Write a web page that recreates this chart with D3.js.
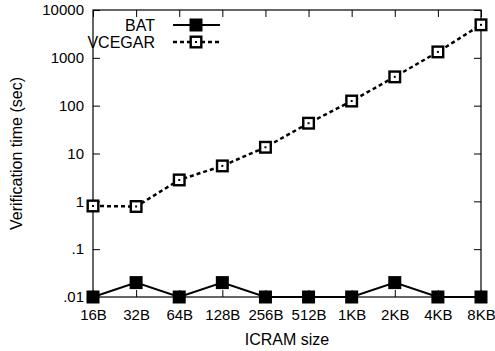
<!DOCTYPE html>
<html>
<head>
<meta charset="utf-8">
<script src="https://cdn.jsdelivr.net/npm/d3@7"></script>
<style>
  body { margin: 0; background: #fff; }
  text { font-family: "Liberation Sans", Arial, sans-serif; font-size: 16px; fill: #000; }
</style>
</head>
<body>
<script>
// ICRAM size vs verification time, log y
let sizes = ['16B', '32B', '64B', '128B', '256B', '512B', '1KB', '2KB', '4KB', '8KB']
let batTimes = [0.01, 0.02, 0.01, 0.02, 0.01, 0.01, 0.01, 0.02, 0.01, 0.01]
let vcegarTimes = [0.8, 0.78, 2.8, 5.5, 13.5, 43, 125, 400, 1330, 4900]
let yTicks = [0.01, 0.1, 1, 10, 100, 1000, 10000]
let yTickLabels = ['.01', '.1', '1', '10', '100', '1000', '10000']

let width = 495, height = 351
let margin = { top: 10, right: 14, bottom: 54, left: 93 }

let svg = d3.select('body').append('svg')
  .attr('width', width)
  .attr('height', height)

let xScale = d3.scalePoint()
  .domain(sizes)
  .range([margin.left, width - margin.right])

let yScale = d3.scaleLog()
  .domain([0.01, 10000])
  .range([height - margin.bottom, margin.top])

// 坐标轴 (gnuplot 风格，刻度朝内)
let tick = 7
let xAxis = svg.append('g')
  .attr('transform', 'translate(0,' + (height - margin.bottom) + ')')
  .call(d3.axisBottom(xScale).tickSize(-tick).tickPadding(12))
xAxis.select('.domain').remove()
xAxis.selectAll('text').style('font-size', '15px').attr('fill', '#000')

let xTop = svg.append('g')
  .attr('transform', 'translate(0,' + margin.top + ')')
  .call(d3.axisTop(xScale).tickSize(-tick).tickFormat(''))
xTop.select('.domain').remove()

let yAxis = svg.append('g')
  .attr('transform', 'translate(' + margin.left + ',0)')
  .call(d3.axisLeft(yScale).tickValues(yTicks).tickSize(-tick).tickPadding(9)
    .tickFormat(function (d, i) { return yTickLabels[i] }))
yAxis.select('.domain').remove()
yAxis.selectAll('text').style('font-size', '15px').attr('fill', '#000')

let yRight = svg.append('g')
  .attr('transform', 'translate(' + (width - margin.right) + ',0)')
  .call(d3.axisRight(yScale).tickValues(yTicks).tickSize(-tick).tickFormat(''))
yRight.select('.domain').remove()

svg.selectAll('.tick line').attr('stroke', '#000').attr('stroke-width', 1)

svg.append('rect')
  .attr('x', margin.left)
  .attr('y', margin.top)
  .attr('width', width - margin.left - margin.right)
  .attr('height', height - margin.top - margin.bottom)
  .attr('fill', 'none')
  .attr('stroke', '#000')
  .attr('stroke-width', 1.2)

// 轴标题
svg.append('text')
  .attr('x', (margin.left + width - margin.right) / 2)
  .attr('y', 345)
  .attr('text-anchor', 'middle')
  .text('ICRAM size')

svg.append('text')
  .attr('transform', 'translate(22,' + ((margin.top + height - margin.bottom) / 2) + ') rotate(-90)')
  .attr('text-anchor', 'middle')
  .text('Verification time (sec)')

let line = d3.line()
  .x(function (d, i) { return xScale(sizes[i]) })
  .y(function (d) { return yScale(d) })

// BAT
svg.append('path')
  .datum(batTimes)
  .attr('d', line)
  .attr('fill', 'none')
  .attr('stroke', '#000')
  .attr('stroke-width', 2)

// VCEGAR
svg.append('path')
  .datum(vcegarTimes)
  .attr('d', line)
  .attr('fill', 'none')
  .attr('stroke', '#000')
  .attr('stroke-width', 2.5)
  .attr('stroke-dasharray', '4,3')

let s = 13
function filledSquare(g, x, y) {
  g.append('rect')
    .attr('x', x - s / 2).attr('y', y - s / 2)
    .attr('width', s).attr('height', s)
    .attr('fill', '#000')
}
function openSquare(g, x, y) {
  g.append('rect')
    .attr('x', x - s / 2 + 1.2).attr('y', y - s / 2 + 1.2)
    .attr('width', s - 2.4).attr('height', s - 2.4)
    .attr('fill', '#fff')
    .attr('stroke', '#000')
    .attr('stroke-width', 2.4)
  g.append('rect')
    .attr('x', x - 1).attr('y', y - 1)
    .attr('width', 2).attr('height', 2)
    .attr('fill', '#000')
}

let marks = svg.append('g')
batTimes.forEach(function (d, i) { filledSquare(marks, xScale(sizes[i]), yScale(d)) })
vcegarTimes.forEach(function (d, i) { openSquare(marks, xScale(sizes[i]), yScale(d)) })

// 图例
let legend = svg.append('g')
legend.append('text').attr('x', 155).attr('y', 31).attr('text-anchor', 'end').text('BAT')
legend.append('line').attr('x1', 173).attr('x2', 220).attr('y1', 25).attr('y2', 25)
  .attr('stroke', '#000').attr('stroke-width', 2)
filledSquare(legend, 196, 25)
legend.append('text').attr('x', 155).attr('y', 48).attr('text-anchor', 'end').text('VCEGAR')
legend.append('line').attr('x1', 173).attr('x2', 220).attr('y1', 42).attr('y2', 42)
  .attr('stroke', '#000').attr('stroke-width', 2.5).attr('stroke-dasharray', '4,3')
openSquare(legend, 196, 42)
</script>
</body>
</html>
